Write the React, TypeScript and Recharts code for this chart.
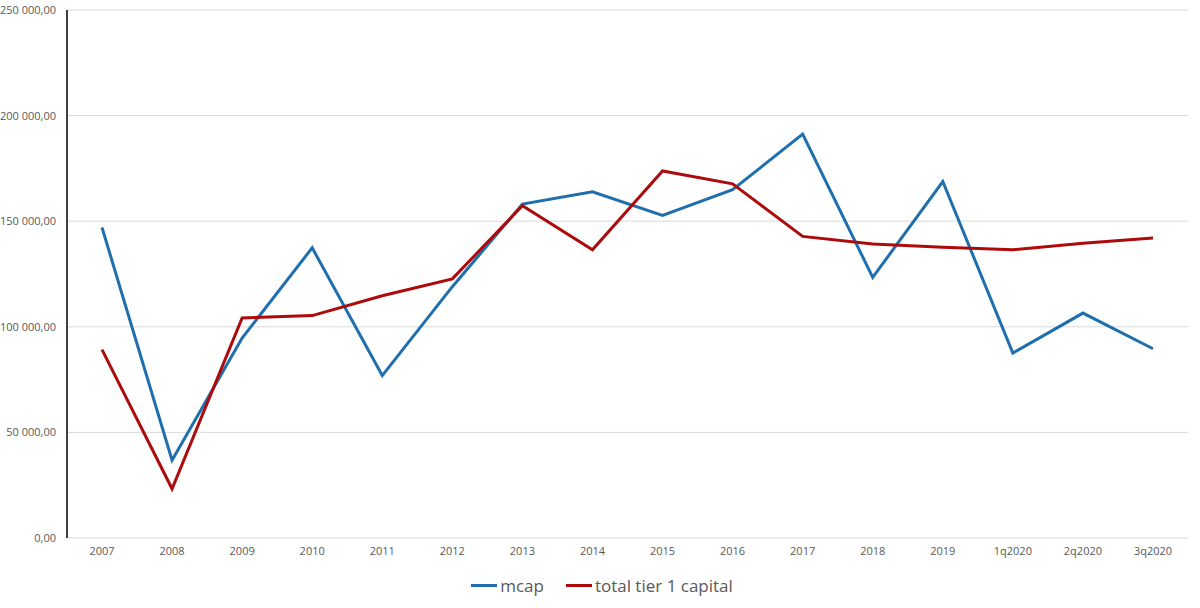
import React from 'react';
import { LineChart, Line, XAxis, YAxis, CartesianGrid, Legend } from 'recharts';

const periods = ['2007', '2008', '2009', '2010', '2011', '2012', '2013', '2014', '2015', '2016', '2017', '2018', '2019', '1q2020', '2q2020', '3q2020'];
const mcap = [147000, 36800, 94700, 137400, 76900, 119000, 158100, 163900, 152700, 164900, 191200, 123400, 168800, 87600, 106500, 89600];
const tier1 = [89200, 23300, 104200, 105300, 114700, 122700, 157300, 136500, 173800, 167700, 142800, 139200, 137700, 136500, 139600, 142000];
const yTicks = [0, 50000, 100000, 150000, 200000, 250000];

const data = periods.map((p, i) => ({ period: p, mcap: mcap[i], tier1: tier1[i] }));

const BLUE = '#1f6fae';
const RED = '#ad0b0b';
const FONT = '"Open Sans", "Noto Sans", sans-serif';

const fmt = (v: number) => {
    const [int, dec] = v.toFixed(2).split('.');
    return int.replace(/\B(?=(\d{3})+(?!\d))/g, ' ') + ',' + dec;
};

// plain <text> so recharts doesn't wrap "250 000,00" at the spaces
const YTick = ({ x, y, payload }: any) => (
    <text x={x} y={y} dy={4} textAnchor="end" fill="#595959" fontSize={11} fontFamily={FONT}>
        {fmt(payload.value)}
    </text>
);

const LegendContent = () => (
    <div style={{ display: 'flex', justifyContent: 'center', alignItems: 'center', gap: 22, fontFamily: FONT, fontSize: 17, color: '#595959', paddingLeft: 16, paddingTop: 6 }}>
        {[{ name: 'mcap', color: BLUE }, { name: 'total tier 1 capital', color: RED }].map(item => (
            <div key={item.name} style={{ display: 'flex', alignItems: 'center', gap: 3 }}>
                <div style={{ width: 26, height: 3, backgroundColor: item.color }} />
                <span>{item.name}</span>
            </div>
        ))}
    </div>
);

export default function App() {
    return (
        <div style={{ position: 'absolute', left: 0, top: 0, width: 1200, height: 608, background: '#fff' }}>
            <LineChart width={1200} height={608} data={data} margin={{ top: 10, right: 12, bottom: 10, left: 0 }}>
                <CartesianGrid horizontal vertical={false} stroke="#d9d9d9" strokeWidth={1} />
                <XAxis
                    dataKey="period"
                    axisLine={false}
                    tickLine={false}
                    padding={{ left: 35, right: 35 }}
                    height={30}
                    tick={{ fill: '#595959', fontSize: 11, fontFamily: FONT }}
                    tickMargin={3}
                    interval={0}
                />
                <YAxis
                    width={67}
                    domain={[0, 250000]}
                    ticks={yTicks}
                    axisLine={{ stroke: '#000', strokeWidth: 1.5 }}
                    tickLine={false}
                    tickMargin={5}
                    tick={<YTick />}
                />
                <Legend verticalAlign="bottom" height={30} content={<LegendContent />} />
                <Line type="linear" dataKey="mcap" name="mcap" stroke={BLUE} strokeWidth={3} dot={false} isAnimationActive={false} />
                <Line type="linear" dataKey="tier1" name="total tier 1 capital" stroke={RED} strokeWidth={3} dot={false} isAnimationActive={false} />
            </LineChart>
        </div>
    );
}
